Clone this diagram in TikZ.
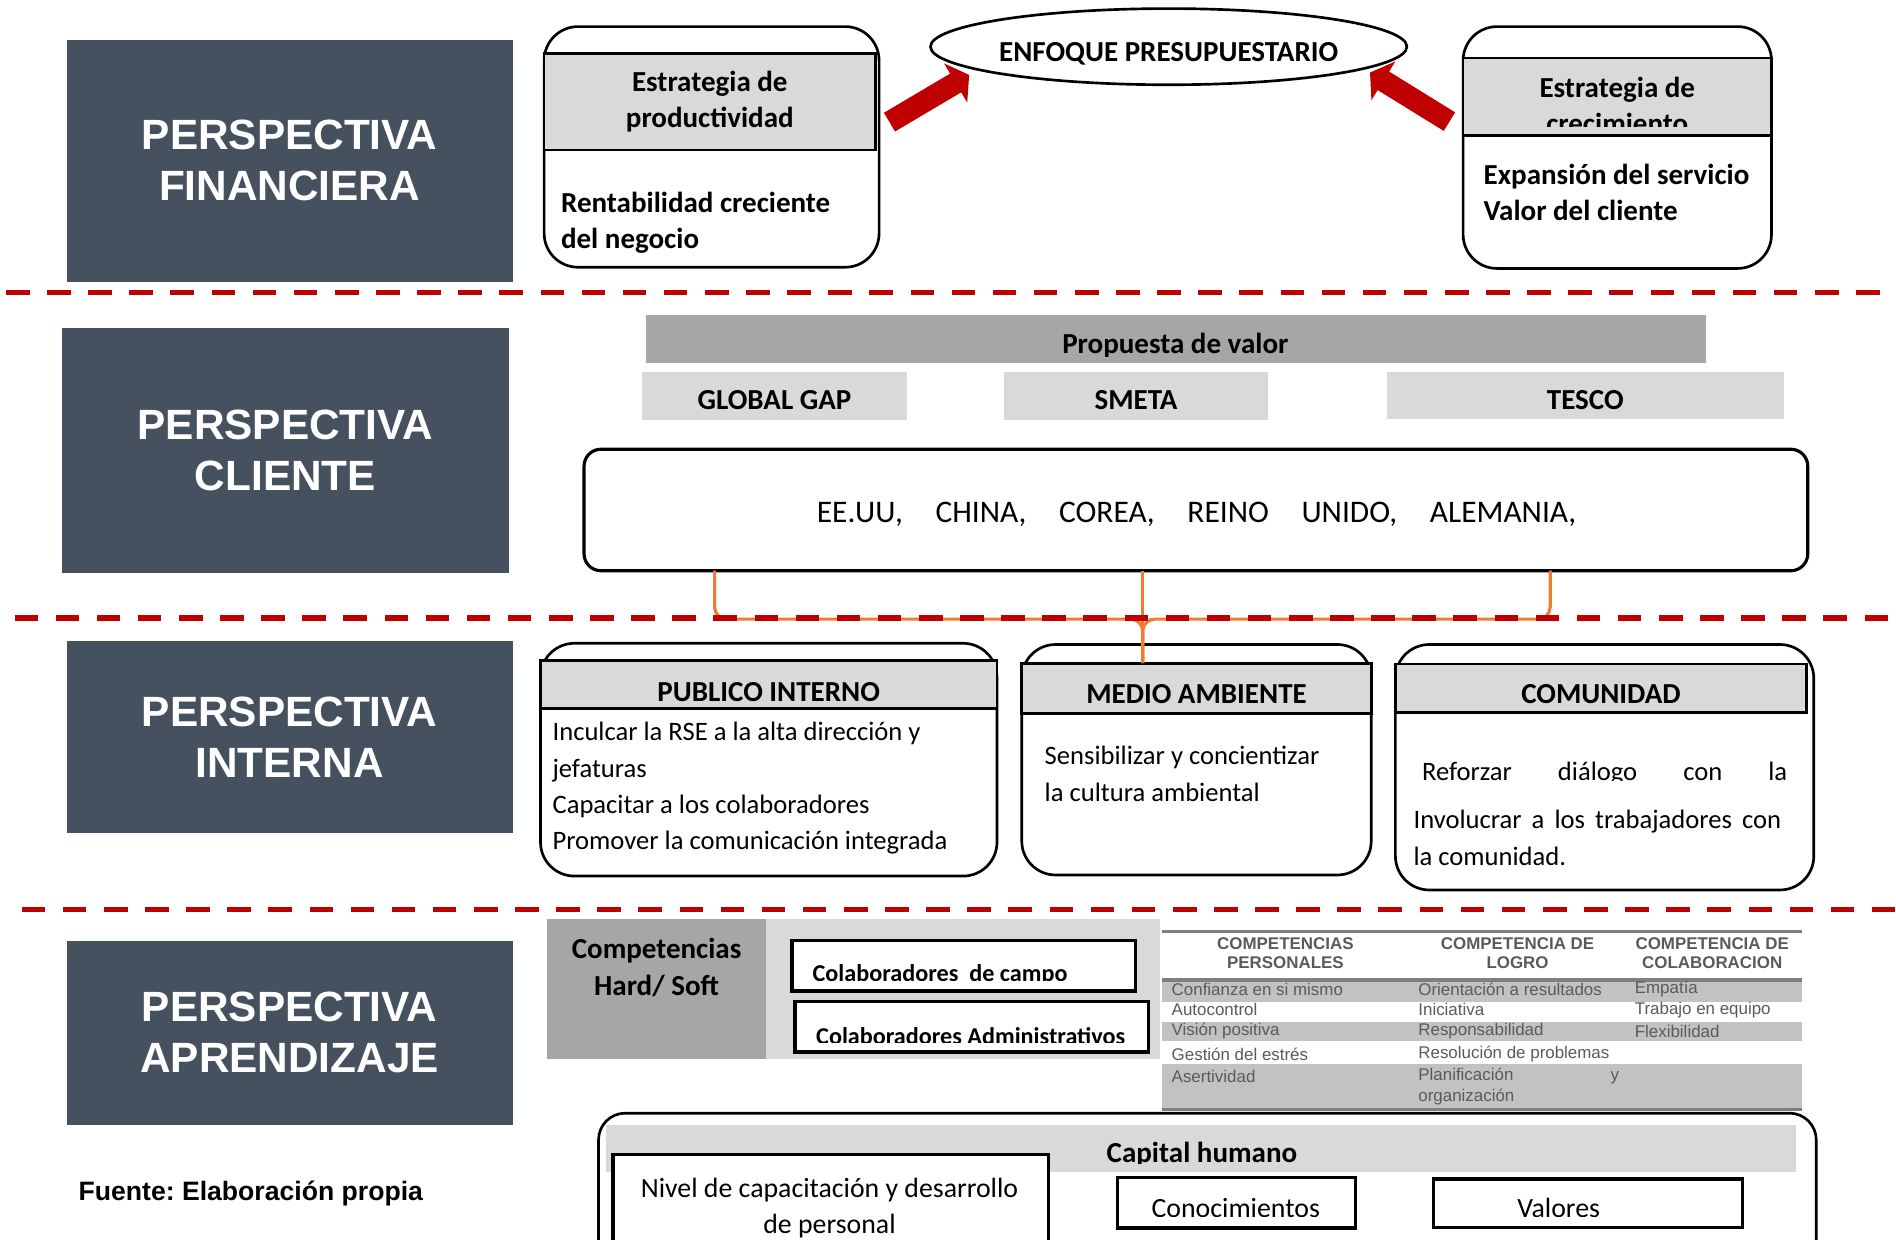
\documentclass[tikz,border=0pt]{standalone}
\usepackage{fontspec}
\setmainfont{Carlito}
\newfontfamily\arialfont{Liberation Sans}
\frenchspacing
\usetikzlibrary{arrows.meta,shapes.geometric}
\definecolor{slate}{HTML}{46515F}
\definecolor{darkred}{HTML}{C00000}
\definecolor{lightgrey}{HTML}{D9D9D9}
\definecolor{midgrey}{HTML}{A6A6A6}
\definecolor{orng}{HTML}{ED7D31}
\definecolor{tabgrey}{HTML}{C2C2C2}
\definecolor{tabink}{HTML}{5A5A5A}
\definecolor{tabline}{HTML}{7F7F7F}
\newcommand{\persfont}{\arialfont\bfseries\fontsize{35}{42}\selectfont}
\newcommand{\headfont}{\bfseries\fontsize{24}{30}\selectfont}
\newcommand{\bodyfont}{\fontsize{22}{30}\selectfont}
\newcommand{\tabfont}{\arialfont\fontsize{14}{16}\selectfont}
\tikzset{every node/.style={inner sep=0pt,outer sep=0pt},
  persp/.style={fill=slate,text=white,font=\persfont,align=center,anchor=north west},
  rbox/.style={draw,line width=2.2pt,fill=white,rounded corners=28pt,anchor=north west},
  hband/.style={draw,line width=2.2pt,fill=lightgrey,anchor=north west},
  gband/.style={fill=lightgrey,anchor=north west},
  dband/.style={fill=midgrey,anchor=north west},
  wbox/.style={draw,line width=2.6pt,fill=white,anchor=north west},
  lbl/.style={font=\headfont,anchor=base},
  sepline/.style={darkred,line width=4.5pt,dash pattern=on 19.5pt off 14.5pt},
  linkline/.style={orng,line width=2.6pt,rounded corners=10pt},
  bigarrow/.style={darkred,line width=18pt,-{Triangle[length=13pt,width=37pt]}},
  tabcell/.style={font=\tabfont,text=tabink,anchor=west},
  tabhead/.style={font=\tabfont\bfseries,text=tabink,align=center},
  tabrule/.style={tabline,line width=2.8pt}}

\begin{document}
\begin{tikzpicture}[x=1pt,y=-1pt]
  \fill[white] (0,0) rectangle (1568,1025);
  \useasboundingbox (0,0) rectangle (1568,1025);
  \clip (0,0) rectangle (1568,1025);

  \node[persp,minimum width=369pt,minimum height=200pt] (fin) at (55,33) {PERSPECTIVA\\FINANCIERA};
  \node[persp,minimum width=370pt,minimum height=203pt] (cli) at (51,271) {PERSPECTIVA\\CLIENTE};
  \node[persp,minimum width=369pt,minimum height=159pt] (int) at (55,530) {PERSPECTIVA\\INTERNA};
  \node[persp,minimum width=369pt,minimum height=152pt] (apr) at (55,778) {PERSPECTIVA\\APRENDIZAJE};

  \node[rbox,minimum width=277pt,minimum height=199pt] (prod) at (450,22) {};
  \node[hband,minimum width=274pt,minimum height=80pt,font=\headfont,align=center] (prodhead) at (450,44) {Estrategia de\\productividad};
  \node[font=\headfont,align=left,anchor=west] (prodtext) at (464,184) {Rentabilidad creciente\\del negocio};

  \node[draw,ellipse,line width=2.2pt,minimum width=394pt,minimum height=63pt] (enfoque) at (966.5,38.6) {};
  \node[lbl] at (966.5,51) {ENFOQUE PRESUPUESTARIO};

  \node[rbox,minimum width=255pt,minimum height=200pt] (crec) at (1210,22) {};
  \node[hband,minimum width=255pt,minimum height=64pt] (crechead) at (1210,48) {};
  \begin{scope}
    \clip (1210,48) rectangle (1465,105);
    \node[font=\headfont,align=center] at (1337.5,87) {Estrategia de\\crecimiento};
  \end{scope}
  \node[font=\headfont,align=left,anchor=west] (crectext) at (1227,159) {Expansión del servicio\\Valor del cliente};

  \coordinate (tailL) at (735.6,101);
  \coordinate (tipL) at (801.5,62);
  \coordinate (tailR) at (1198.7,100.6);
  \coordinate (tipR) at (1133,60);
  \draw[bigarrow] (tailL) -- (tipL);
  \draw[bigarrow] (tailR) -- (tipR);

  \node[dband,minimum width=877pt,minimum height=39.5pt] (propuesta) at (534,260.5) {};
  \begin{scope}
    \clip (534,260.5) rectangle (1411,295);
    \node[lbl] at (972,292) {Propuesta de valor};
  \end{scope}
  \node[gband,minimum width=219pt,minimum height=39.5pt] (globalgap) at (531,307.6) {};
  \node[gband,minimum width=219pt,minimum height=39.5pt] (smeta) at (830,307.6) {};
  \node[gband,minimum width=328pt,minimum height=38.5pt] (tesco) at (1147,307.6) {};
  \node[lbl] at (640.5,339) {GLOBAL GAP};
  \node[lbl] at (939.5,339) {SMETA};
  \node[lbl] at (1311,339) {TESCO};

  \node[draw,line width=2.6pt,rounded corners=14pt,minimum width=1012pt,minimum height=100.5pt,anchor=north west] (paises) at (483,371.5) {};
  \node[font=\fontsize{26}{30}\selectfont,anchor=base] (paistext) at (989.5,432)
        {EE.UU,\hspace{27pt}CHINA,\hspace{27pt}COREA,\hspace{27pt}REINO\hspace{27pt}UNIDO,\hspace{27pt}ALEMANIA,};

  \node[rbox,minimum width=377.5pt,minimum height=192.5pt] (publico) at (447,532) {};
  \node[hband,minimum width=377.5pt,minimum height=40pt] (pubhead) at (447,546) {};
  \node[lbl] at (635.7,580) {PUBLICO INTERNO};
  \node[font=\bodyfont,align=left,anchor=west] (pubtext) at (457,652)
        {Inculcar la RSE a la alta dirección y\\jefaturas\\Capacitar a los colaboradores\\Promover la comunicación integrada};

  \node[rbox,minimum width=289pt,minimum height=190.6pt] (medio) at (845,533) {};
  \node[hband,minimum width=289pt,minimum height=41.5pt] (medhead) at (845,548.5) {};
  \node[lbl] at (989.5,581.4) {MEDIO AMBIENTE};
  \node[font=\bodyfont,align=left,anchor=west] (medtext) at (864,640) {Sensibilizar y concientizar\\la cultura ambiental};

  \node[rbox,minimum width=346pt,minimum height=203pt] (comunidad) at (1154,533) {};
  \node[hband,minimum width=340pt,minimum height=40.4pt] (comhead) at (1154,549) {};
  \node[lbl] at (1324,581.4) {COMUNIDAD};
  \begin{scope}
    \clip (1160,600) rectangle (1495,645.5);
    \node[font=\bodyfont,anchor=base west] at (1176,645.5) {\makebox[302pt][s]{Reforzar diálogo con la}};
  \end{scope}
  \node[font=\bodyfont,align=left,anchor=west] (comtext) at (1169,693)
        {\makebox[304pt][s]{Involucrar a los trabajadores con}\\la comunidad.};

  \coordinate (oL) at (591,472);
  \coordinate (oM) at (945,472);
  \coordinate (oR) at (1282,472);
  \coordinate (jn) at (945,512);
  \draw[linkline] (oL) |- (jn) -- (medhead.north -| jn);
  \draw[linkline] (oR) |- (jn) -- (medhead.north -| jn);
  \draw[linkline] (oM) -- (medhead.north -| oM);

  \draw[sepline] (5,242) -- (1555,242);
  \draw[sepline] (12,511) -- (1568,511);
  \draw[sepline] (18,752) -- (1568,752);

  \node[dband,minimum width=181.6pt,minimum height=116pt] (comp) at (452,760) {};
  \node[gband,minimum width=325.4pt,minimum height=116pt] (compback) at (633.6,760) {};
  \node[font=\headfont,align=center] (comptext) at (543,800) {Competencias\\Hard/ Soft};
  \node[wbox,minimum width=284pt,minimum height=41.6pt] (campo) at (655,778) {};
  \node[wbox,minimum width=292.5pt,minimum height=42pt] (admin) at (657.5,828) {};
  \begin{scope}
    \clip (655,778) rectangle (939,810.5);
    \node[font=\bfseries\fontsize{20}{24}\selectfont,anchor=base west] at (672,811.5) {Colaboradores\ \ de campo};
  \end{scope}
  \begin{scope}
    \clip (657.5,828) rectangle (950,862);
    \node[font=\bfseries\fontsize{20}{24}\selectfont,anchor=base west] at (675,863.5) {Colaboradores Administrativos};
  \end{scope}

  \fill[tabgrey] (961,811) rectangle (1490,829);
  \fill[tabgrey] (961,845) rectangle (1490,861);
  \fill[tabgrey] (961,880) rectangle (1490,916);
  \draw[tabrule] (961,770.5) -- (1490,770.5);
  \draw[tabrule] (961,810.5) -- (1490,810.5);
  \draw[tabrule] (961,917.5) -- (1490,917.5);
  \node[tabhead] at (1063,788) {COMPETENCIAS\\PERSONALES};
  \node[tabhead] at (1255,788) {COMPETENCIA DE\\LOGRO};
  \node[tabhead] at (1416,788) {COMPETENCIA DE\\COLABORACION};
  \node[tabcell] at (969,818) {Confianza en si mismo};
  \node[tabcell] at (969,835) {Autocontrol};
  \node[tabcell] at (969,853) {Visión positiva};
  \node[tabcell] at (969,872) {Gestión del estrés};
  \node[tabcell] at (969,890) {Asertividad};
  \node[tabcell] at (1173,818) {Orientación a resultados};
  \node[tabcell] at (1173,835) {Iniciativa};
  \node[tabcell] at (1173,853) {Responsabilidad};
  \node[tabcell] at (1173,872) {Resolución de problemas};
  \node[tabcell] at (1173,890) {\makebox[166pt][s]{Planificación y}};
  \node[tabcell] at (1173,907) {organización};
  \node[tabcell] at (1352,818) {Empatía};
  \node[tabcell] at (1352,835) {Trabajo en equipo};
  \node[tabcell] at (1352,853) {Flexibilidad};

  \node[rbox,rounded corners=22pt,minimum width=1007pt,minimum height=140pt] (capital) at (495,920.6) {};
  \node[gband,minimum width=984pt,minimum height=39pt] (capband) at (501,930) {};
  \begin{scope}
    \clip (501,930) rectangle (1485,962);
    \node[lbl] at (994,961.5) {Capital humano};
  \end{scope}
  \node[wbox,minimum width=359.8pt,minimum height=110pt] (nivel) at (507,955) {};
  \node[font=\fontsize{23}{29.5}\selectfont,align=center,anchor=north] (niveltext) at (686,974.5)
        {Nivel de capacitación y desarrollo\\de personal};
  \node[wbox,minimum width=197pt,minimum height=41.6pt] (conoc) at (924,974) {};
  \node[wbox,minimum width=255.3pt,minimum height=40pt] (valores) at (1185.7,975) {};
  \begin{scope}
    \clip (924,974) rectangle (1441,1006);
    \node[font=\fontsize{23}{28}\selectfont,anchor=base] at (1022,1007) {Conocimientos};
    \node[font=\fontsize{23}{28}\selectfont,anchor=base] at (1289,1007) {Valores};
  \end{scope}

  \node[font=\arialfont\bfseries\fontsize{22}{26}\selectfont,anchor=base west] (fuente) at (65,993) {Fuente: Elaboración propia};
\end{tikzpicture}
\end{document}
